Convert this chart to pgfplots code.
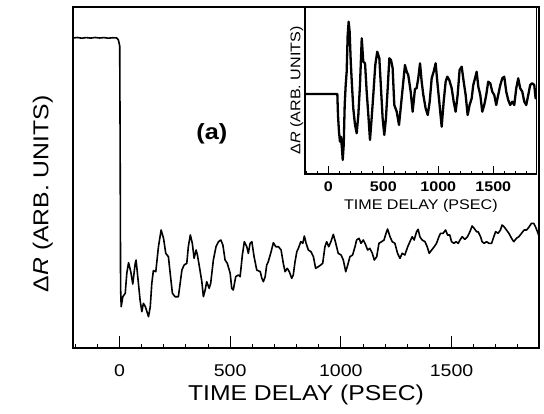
\documentclass[border=0pt]{standalone}
\usepackage{fontspec}
\setmainfont{Liberation Sans}[FakeStretch=1.15]
\usepackage{pgfplots}
\pgfplotsset{compat=1.18}
\pgfplotstableread{
x y
-210 310
-190 310.5
-170 309.8
-150 310.4
-130 309.9
-110 310.5
-90 310
-70 310.4
-50 309.8
-30 310.3
-12 310
-5 308
1 302
3 200
5 60
7.7 41.3
15 51.3
26 54.7
33 74.7
41 85.3
51 76.3
60 64
71 84.7
75 88
84 68
93 48
101 36.3
108 44.7
117 41.3
131 31.3
139 41.3
146 64.7
153 77.3
164 76.3
176 101.3
188 118
199 109.7
209 94.7
221 91.3
229 74.7
239 54.7
251 51.3
266 51.3
282 78
292 83
304 84.7
311 101.3
320 113
329 104.7
337 89.7
346 98
352 93
361 81.3
372 66.3
379 51.3
387 58
394 66.3
405 59.7
412 64.7
424 88
436 101.3
447 106.3
458 108
467 103
477 88
487 84.7
500 74.7
507 59.7
514 58
525 71.3
537 73
545 71.3
555 93
564 106.3
575 101.3
582 94.7
590 104.7
598 106.3
608 91.3
620 78
636 76.3
643 69.7
650 66.3
658 71.3
665 83
672 86.3
685 96.3
695 105.3
706 101.3
718 101.3
730 98
740 84.7
748 76.3
758 79.7
767 76.3
778 69.7
785 73
793 86.3
801 96.3
808 99.7
819 106.3
828 104.7
835 112
843 104.7
853 98
865 96.3
876 91.3
886 79.7
898 81.3
909 83
918 84.7
928 101.3
936 106.3
945 101.3
955 106.3
966 113.7
977 104.7
988 94.7
1001 93
1011 88
1022 76.3
1031 83
1041 91.3
1053 93
1064 101.3
1071 108
1082 109.7
1091 104.7
1101 108
1109 104.7
1121 98
1131 99.7
1142 94.7
1151 88
1162 91.3
1172 104.7
1184 106.3
1195 108
1204 114.7
1211 119
1222 111.3
1232 106.3
1244 104.7
1256 94.7
1267 89.7
1277 94.7
1289 93
1302 101.3
1312 106.3
1322 111.3
1331 108
1342 116.3
1349 118.7
1357 111.3
1367 108
1380 106.3
1390 101.3
1399 94.7
1410 98
1422 101.3
1432 104.7
1443 111.3
1450 114.7
1462 114.7
1473 118
1482 113
1492 113
1500 106.3
1511 104.7
1520 106.3
1530 104.7
1538 108
1548 111.3
1560 108.7
1572 111.3
1583 116.3
1593 122
1602 119.7
1613 116.3
1620 116.3
1631 111.3
1638 106.3
1647 104.7
1658 106.3
1669 104.7
1681 104.7
1692 112
1699 116.3
1710 114.7
1721 118
1728 123
1737 121.3
1748 118
1759 114.7
1771 109.7
1781 106.3
1793 109.7
1804 111.3
1816 114.7
1828 118
1839 118
1849 120.7
1861 124.7
1871 124.7
1879 121.3
1888 116.3
1895 112
}\maindata
\pgfplotstableread{
x y
-212 80
-150 80
-100 80
-50 80
0 80
50 80
82 80
88 59
97 42.3
106 32.3
115 37.3
124 25.7
131 14
140 29
149 69
158 89
167 102.3
176 139
185 152.3
194 142.3
204 112.3
215 89
227 65.7
243 49
258 40.7
273 59
288 89
304 135.7
318 112.3
334 110.7
349 82.3
364 59
379 34
394 55.7
409 79
427 109
445 122.3
464 115.7
479 85.7
494 55.7
509 39
524 55.7
540 85.7
555 115.7
570 114
585 105.7
600 69
622 62.3
643 49
661 69
682 92.3
697 109
713 102.3
727 99
749 82.3
767 62.3
788 85
803 85.7
818 95.7
834 110.7
849 92.3
864 79
885 65.7
904 59
922 72.3
940 95.7
958 102.3
976 110.7
994 89
1009 72.3
1031 47.3
1049 72.3
1067 92.3
1082 97.3
1100 94
1122 85.7
1140 72.3
1158 62.3
1176 79
1194 104
1213 107.3
1231 92.3
1249 79
1267 59
1285 69
1304 75.7
1318 89
1334 95.7
1349 102.3
1364 87.3
1382 79
1400 62.3
1418 69
1436 79
1454 92.3
1473 90.7
1491 82.3
1509 79
1527 69
1545 79
1564 89
1582 95.7
1600 97.3
1618 82.3
1636 74
1654 69
1673 72.3
1691 69
1709 85.7
1727 95.7
1745 85.7
1764 82.3
1782 72.3
1800 69
1818 79
1836 89
1854 90.7
1873 89
1885 75.7
1893 80
}\insetdata
\begin{document}
\begin{tikzpicture}
\useasboundingbox (-73pt,-65pt) rectangle (471pt,348pt);
\begin{axis}[
  at={(0pt,0pt)}, anchor=south west,
  scale only axis, width=466pt, height=341pt,
  xmin=-210, xmax=1895, ymin=0, ymax=341,
  axis line style={line width=1.1pt},
  xtick={0,500,1000,1500},
  xticklabels={0,500,1000,1500},
  minor xtick={-200,-100,...,1800},
  ytick=\empty,
  xtick pos=left, tick align=inside,
  major tick length=12pt, minor tick length=4pt,
  every tick/.style={black, line width=1pt},
  xticklabel style={font=\fontsize{17}{20}\selectfont, inner sep=0pt, anchor=north, yshift=-16pt},
  xlabel={TIME DELAY (PSEC)},
  xlabel style={font=\fontsize{21.5}{25}\selectfont, at={(axis description cs:0.5,-0.1085)}, anchor=north, inner sep=0pt},
  ylabel={Δ\textit{R} (ARB. UNITS)},
  ylabel style={font=\fontsize{21.5}{25}\selectfont, at={(axis description cs:-0.043,0.452)}, anchor=south, inner sep=0pt},
  clip=false,
]
\addplot[black, line width=1.6pt, line join=round] table[x=x, y=y] {\maindata};
\node[font=\bfseries\fontsize{22}{26}\selectfont] at (axis cs:417,214) {(a)};
\end{axis}
\begin{axis}[
  at={(232pt,174pt)}, anchor=south west,
  scale only axis, width=231.7pt, height=167pt,
  xmin=-212, xmax=1895, ymin=0, ymax=167,
  axis line style={line width=1.1pt},
  xtick={0,500,1000,1500},
  xticklabels={0,500,1000,1500},
  minor xtick={-200,-100,...,1800},
  ytick=\empty,
  xtick pos=left, tick align=inside,
  major tick length=8pt, minor tick length=3pt,
  every tick/.style={black, line width=1pt},
  xticklabel style={font=\bfseries\fontsize{14}{16}\selectfont, inner sep=0pt, anchor=north, yshift=-8pt},
  xlabel={TIME DELAY (PSEC)},
  xlabel style={font=\fontsize{14}{16}\selectfont, at={(axis description cs:0.5,-0.15)}, anchor=north, inner sep=0pt},
  ylabel={Δ\textit{R} (ARB. UNITS)},
  ylabel style={font=\fontsize{14}{16}\selectfont, at={(axis description cs:-0.007,0.5)}, anchor=south, inner sep=0pt},
]
\addplot[black, line width=2.3pt, line join=round] table[x=x, y=y] {\insetdata};
\end{axis}
\end{tikzpicture}
\end{document}
